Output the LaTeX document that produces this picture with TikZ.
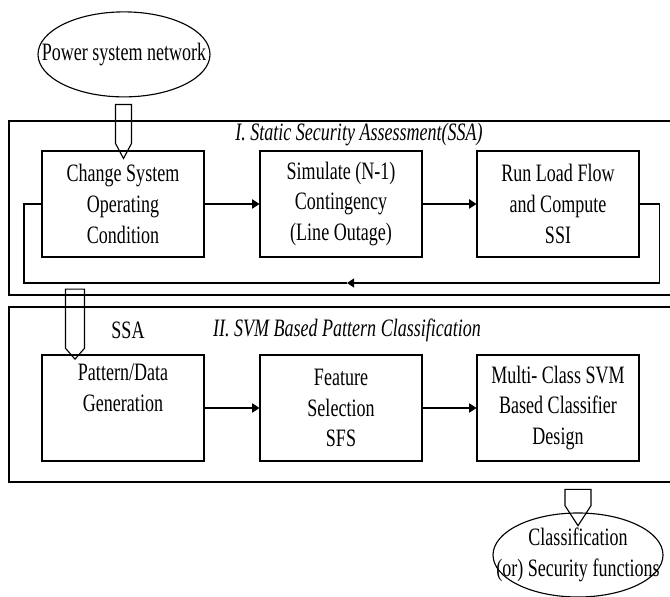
\documentclass[tikz,border=0pt]{standalone}
\usepackage{fontspec}
\setmainfont{Liberation Serif}[FakeStretch=0.72]
\usepackage{tikz}
\usetikzlibrary{shapes.geometric,shapes.arrows,arrows.meta,calc}

\newcommand{\blockfont}{\fontsize{17.8}{22}\selectfont}

\begin{document}
\begin{tikzpicture}[
  box/.style={rectangle, draw, line width=0.8pt, minimum width=4.05cm, minimum height=2.65cm, align=center, font=\blockfont},
  frame/.style={rectangle, draw, line width=0.8pt, minimum width=16.775cm},
  oval/.style={ellipse, draw, line width=0.8pt},
  label/.style={font=\blockfont, align=center, inner sep=0pt},
  title/.style={font=\blockfont\itshape, inner sep=0pt},
  hollow/.style={single arrow, draw, line width=0.8pt, rotate=-90, single arrow head extend=0pt},
  link/.style={line width=0.8pt},
  arrow/.style={-{Triangle[length=1.8mm, width=2.3mm]}, line width=0.8pt}
]
\useasboundingbox (0,0) rectangle (16.75,14.9);

\node[frame, minimum height=4.35cm] (ssa) at (8.6125,9.7) {};
\node[frame, minimum height=4.375cm] (svm) at (8.6125,5.0375) {};

\node[oval, minimum width=4.3cm, minimum height=2.125cm] (psn) at (3.1,13.54) {};
\node[label] (psntext) at (psn) {Power system network};

\node[title] (ssatitle) at (8.975,11.525) {I. Static Security Assessment(SSA)};
\node[box] (chg) at (3.075,9.8) {Change System\\Operating\\Condition};
\node[box] (sim) at (8.525,9.8) {Simulate (N-1)\\Contingency\\(Line Outage)};
\node[box] (ssi) at (13.95,9.8) {Run Load Flow\\and Compute\\SSI};

\node[label] (ssatag) at (3.2,6.65) {SSA};
\node[title] (svmtitle) at (8.675,6.65) {II. SVM Based Pattern Classification};
\node[box] (pat) at (3.075,4.7) {Pattern/Data\\Generation\\\strut};
\node[box] (sfs) at (8.525,4.7) {Feature\\Selection\\SFS};
\node[box] (cls) at (13.95,4.7) {Multi- Class SVM\\Based Classifier\\Design};

\node[oval, minimum width=4.25cm, minimum height=2.1cm] (out) at (14.45,1.025) {};
\node[label] (outtext) at (out) {Classification\\(or) Security functions};

\draw[arrow] (chg) -- (sim);
\draw[arrow] (sim) -- (ssi);
\draw[arrow] (pat) -- (sfs);
\draw[arrow] (sfs) -- (cls);

\coordinate (fbk) at (8.675,7.825);
\coordinate (lp) at (0.6,7.825);
\coordinate (split) at (1.875,7.825);
\draw[arrow] (ssi.east) -- ++(0.5,0) |- (fbk);
\draw[link] (fbk) -- (lp) |- (chg.west);

\node[hollow, minimum height=1.35cm, minimum width=0.4cm, inner sep=0.0875cm, single arrow tip angle=56] (in1) at ($(psn.south)!0.5!(chg.north)$) {};
\node[hollow, minimum height=1.75cm, minimum width=0.475cm, inner sep=0.11cm, single arrow tip angle=82] (in2) at ($(split)!0.5!(split |- pat.north)$) {};
\node[hollow, minimum height=0.775cm, minimum width=0.65cm, inner sep=0.19cm, single arrow tip angle=66] (in3) at ($(svm.south -| out.north)!0.5!(out.north)$) {};
\end{tikzpicture}
\end{document}
